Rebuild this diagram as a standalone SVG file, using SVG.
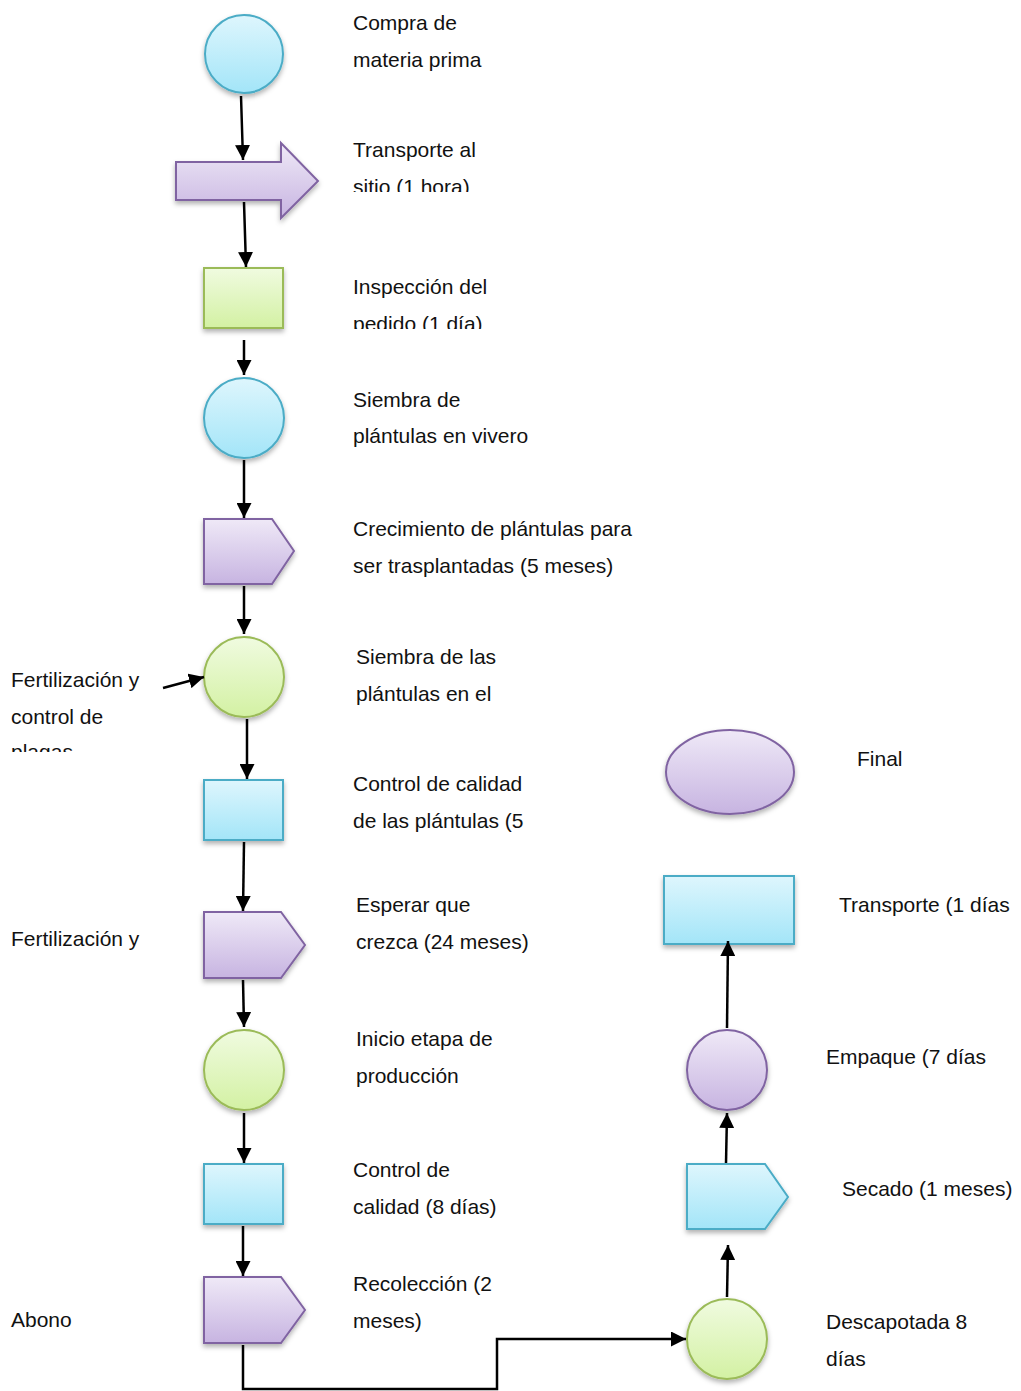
<svg xmlns="http://www.w3.org/2000/svg" width="1021" height="1391" viewBox="0 0 1021 1391">
<style>
text{font-family:"Liberation Sans",Arial,sans-serif;font-size:21px;fill:#111}
.b{fill:url(#gb);stroke:#4bacc6;stroke-width:2}
.g{fill:url(#gg);stroke:#9bbb59;stroke-width:2}
.p{fill:url(#gp);stroke:#8064a2;stroke-width:2}
.sh{filter:url(#ds)}
#conn path,#conn line{fill:none;stroke:#000;stroke-width:2.5;marker-end:url(#ah)}
</style>
<defs>
<linearGradient id="gb" x1="0" y1="0" x2="0" y2="1"><stop offset="0" stop-color="#def6fd"/><stop offset="1" stop-color="#a3e5f8"/></linearGradient>
<linearGradient id="gg" x1="0" y1="0" x2="0" y2="1"><stop offset="0" stop-color="#f0fbe0"/><stop offset="1" stop-color="#d3f1a3"/></linearGradient>
<linearGradient id="gp" x1="0" y1="0" x2="0" y2="1"><stop offset="0" stop-color="#efe9f7"/><stop offset="1" stop-color="#c7b4e1"/></linearGradient>
<filter id="ds" x="-20%" y="-20%" width="140%" height="150%"><feDropShadow dx="0" dy="3" stdDeviation="2.5" flood-color="#000" flood-opacity="0.3"/></filter>
<marker id="ah" viewBox="0 0 10 10" refX="10" refY="5" markerWidth="6" markerHeight="6" markerUnits="strokeWidth" orient="auto"><path d="M0,0 L10,5 L0,10 z" fill="#000"/></marker>
<clipPath id="c1"><rect x="340" y="130" width="300" height="62"/></clipPath>
<clipPath id="c2"><rect x="340" y="270" width="300" height="59"/></clipPath>
<clipPath id="c3"><rect x="0" y="660" width="160" height="92"/></clipPath>
<clipPath id="c4"><rect x="0" y="920" width="160" height="48"/></clipPath>
</defs>

<g id="n1"><circle class="b sh" cx="244" cy="54" r="39"/><text x="353" y="30">Compra de</text><text x="353" y="67">materia prima</text></g>
<g id="n2"><path class="p sh" d="M176,162 H281 V143 L318,181 L281,218 V200 H176 Z"/><g clip-path="url(#c1)"><text x="353" y="157">Transporte al</text><text x="353" y="194">sitio (1 hora)</text></g></g>
<g id="n3"><rect class="g sh" x="204" y="268" width="79" height="60"/><g clip-path="url(#c2)"><text x="353" y="294">Inspección del</text><text x="353" y="331">pedido (1 día)</text></g></g>
<g id="n4"><circle class="b sh" cx="244" cy="418" r="40"/><text x="353" y="407">Siembra de</text><text x="353" y="443">plántulas en vivero</text></g>
<g id="n5"><path class="p sh" d="M204,519 H272 L294,551 L272,584 H204 Z"/><text x="353" y="536">Crecimiento de plántulas para</text><text x="353" y="573">ser trasplantadas (5 meses)</text></g>
<g id="n6"><circle class="g sh" cx="244" cy="677" r="40"/><text x="356" y="664">Siembra de las</text><text x="356" y="701">plántulas en el</text></g>
<g id="n6b"><g clip-path="url(#c3)"><text x="11" y="687">Fertilización y</text><text x="11" y="724">control de</text><text x="11" y="759">plagas</text></g></g>
<g id="n7"><rect class="b sh" x="204" y="780" width="79" height="60"/><text x="353" y="791">Control de calidad</text><text x="353" y="828">de las plántulas (5</text></g>
<g id="n8"><path class="p sh" d="M204,912 H281 L305,945 L281,978 H204 Z"/><text x="356" y="912">Esperar que</text><text x="356" y="949">crezca (24 meses)</text></g>
<g id="n8b"><g clip-path="url(#c4)"><text x="11" y="946">Fertilización y</text><text x="11" y="983">control de</text></g></g>
<g id="n9"><circle class="g sh" cx="244" cy="1070" r="40"/><text x="356" y="1046">Inicio etapa de</text><text x="356" y="1083">producción</text></g>
<g id="n10"><rect class="b sh" x="204" y="1164" width="79" height="60"/><text x="353" y="1177">Control de</text><text x="353" y="1214">calidad (8 días)</text></g>
<g id="n11"><path class="p sh" d="M204,1277 H281 L305,1310 L281,1343 H204 Z"/><text x="353" y="1291">Recolección (2</text><text x="353" y="1328">meses)</text></g>
<g id="n11b"><text x="11" y="1327">Abono</text></g>
<g id="n12"><circle class="g sh" cx="727" cy="1339" r="40"/><text x="826" y="1329">Descapotada 8</text><text x="826" y="1366">días</text></g>
<g id="n13"><path class="b sh" d="M687,1164 H765 L788,1197 L765,1229 H687 Z"/><text x="842" y="1196">Secado (1 meses)</text></g>
<g id="n14"><circle class="p sh" cx="727" cy="1070" r="40"/><text x="826" y="1064">Empaque (7 días</text></g>
<g id="n15"><rect class="b sh" x="664" y="876" width="130" height="68"/><text x="839" y="912">Transporte (1 días</text></g>
<g id="n16"><ellipse class="p sh" cx="730" cy="772" rx="64" ry="42"/><text x="857" y="766">Final</text></g>

<g id="conn">
<line x1="241" y1="96" x2="243" y2="160"/>
<line x1="244" y1="202" x2="246" y2="267"/>
<line x1="244" y1="340" x2="244" y2="375"/>
<line x1="244" y1="460" x2="244" y2="518"/>
<line x1="244" y1="586" x2="244" y2="634"/>
<line x1="247" y1="719" x2="247" y2="779"/>
<line x1="244" y1="842" x2="243" y2="911"/>
<line x1="243" y1="980" x2="244" y2="1027"/>
<line x1="244" y1="1113" x2="244" y2="1163"/>
<line x1="243" y1="1226" x2="243" y2="1276"/>
<line x1="163" y1="688" x2="204" y2="677"/>
<path d="M243,1345 V1389 H497 V1339 H686"/>
<line x1="727" y1="1297" x2="728" y2="1245"/>
<line x1="726" y1="1163" x2="727" y2="1113"/>
<line x1="727" y1="1028" x2="728" y2="941"/>
</g>
</svg>
